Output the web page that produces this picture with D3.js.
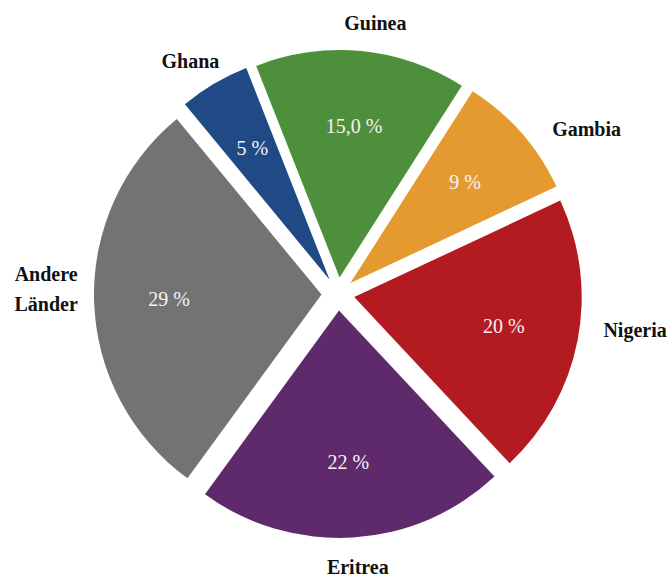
<!DOCTYPE html>
<html>
<head>
<meta charset="utf-8">
<script src="https://cdn.jsdelivr.net/npm/d3@7"></script>
<style>
  html, body { margin: 0; padding: 0; background: #ffffff; }
  svg { display: block; }
</style>
</head>
<body>
<div id="chart"></div>
<script>
// Herkunftsländer – Anteile in Prozent
const countries = ["Ghana", "Guinea", "Gambia", "Nigeria", "Eritrea", "Andere Länder"];
const shares = [5, 15, 9, 20, 22, 29];
const shareLabels = ["5 %", "15,0 %", "9 %", "20 %", "22 %", "29 %"];
const colors = ["#1f4a86", "#4e8f3b", "#e49a2f", "#b31b20", "#5f2a6b", "#737373"];

// Feinjustierung der Ländernamen (dx, dy) gegenüber der radialen Grundposition
const labelNudge = [[-8, 4], [11, 3], [42, 17], [27, -16], [3, -1], [-17, -13]];

const width = 667, height = 577;
const cx = 338, cy = 294;
const radius = 227.5;
const explode = 16.5;
const startDeg = -39.5;

const svg = d3.select("#chart").append("svg")
  .attr("width", width)
  .attr("height", height);

const g = svg.append("g").attr("transform", `translate(${cx},${cy})`);

const data = countries.map((name, i) => ({ name, value: shares[i], label: shareLabels[i], color: colors[i], nudge: labelNudge[i] }));

const start = startDeg * Math.PI / 180;
const pie = d3.pie().sort(null).value(d => d.value)
  .startAngle(start).endAngle(start + 2 * Math.PI);
const arcs = pie(data);

const arc = d3.arc().innerRadius(0).outerRadius(radius);
const labelArc = d3.arc().innerRadius(152.5).outerRadius(152.5);

const mid = a => (a.startAngle + a.endAngle) / 2;
const dir = a => [Math.sin(mid(a)), -Math.cos(mid(a))];

// Explodierte Segmente
const slices = g.selectAll("g.slice")
  .data(arcs)
  .join("g")
  .attr("class", "slice")
  .attr("transform", a => {
    const [x, y] = dir(a);
    return `translate(${x * explode},${y * explode})`;
  });

slices.append("path")
  .attr("d", arc)
  .attr("fill", a => a.data.color);

// Prozentwerte im Segment
slices.append("text")
  .attr("transform", a => {
    const [x, y] = labelArc.centroid(a);
    return `translate(${x},${y})`;
  })
  .attr("text-anchor", "middle")
  .attr("dy", "0.34em")
  .attr("font-family", "'Liberation Serif', 'Times New Roman', serif")
  .attr("font-size", 20)
  .attr("fill", "#f6f2f6")
  .text(a => a.data.label);

// Ländernamen außerhalb des Kreises
const outerR = 275;
const names = g.selectAll("text.name")
  .data(arcs)
  .join("text")
  .attr("class", "name")
  .attr("text-anchor", "middle")
  .attr("font-family", "'Liberation Serif', 'Times New Roman', serif")
  .attr("font-weight", "bold")
  .attr("font-size", 20)
  .attr("fill", "#111111")
  .attr("transform", a => {
    const [x, y] = dir(a);
    const [nx, ny] = a.data.nudge;
    return `translate(${x * outerR + nx},${y * outerR + ny})`;
  });

names.each(function (a) {
  const words = a.data.name.split(" ");
  const lineH = 30;
  const t = d3.select(this);
  words.forEach((w, i) => {
    t.append("tspan")
      .attr("x", 0)
      .attr("y", (i - (words.length - 1) / 2) * lineH)
      .attr("dy", "0.34em")
      .text(w);
  });
});
</script>
</body>
</html>
